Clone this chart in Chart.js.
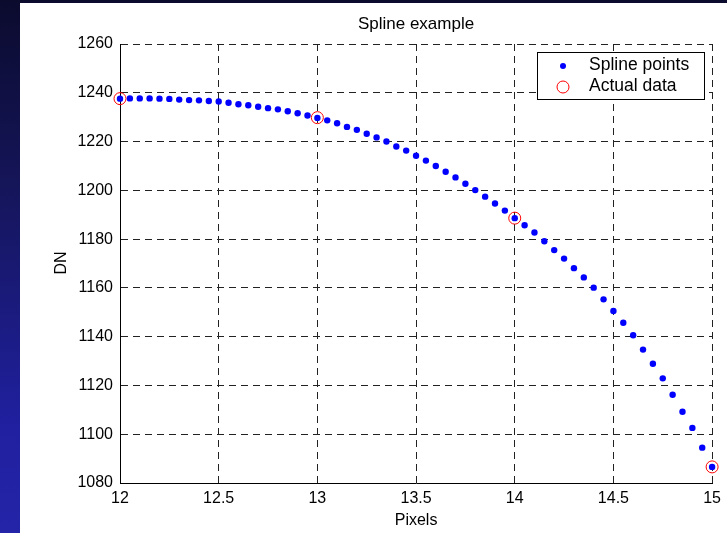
<!DOCTYPE html>
<html>
<head>
<meta charset="utf-8">
<script src="https://cdn.jsdelivr.net/npm/chart.js@4/dist/chart.umd.min.js"></script>
<style>
  html, body { margin:0; padding:0; width:727px; height:533px; overflow:hidden;
    background: linear-gradient(to bottom, #0b0b2e 0%, #15155a 35%, #2020a0 80%, #2424a8 100%); }
  #wrap { position:absolute; left:20px; top:3px; width:707px; height:530px; background:#ffffff; }
  canvas { display:block; }
</style>
</head>
<body>
<div id="wrap"><canvas id="c" width="707" height="530"></canvas></div>
<script>
const chartTitle = "Spline example";
const xAxisTitle = "Pixels";
const yAxisTitle = "DN";
const seriesNames = ["Spline points", "Actual data"];

const xTicks = [12, 12.5, 13, 13.5, 14, 14.5, 15];
const yTicks = [1080, 1100, 1120, 1140, 1160, 1180, 1200, 1220, 1240, 1260];

const splineX = [12.00,12.05,12.10,12.15,12.20,12.25,12.30,12.35,12.40,12.45,
  12.50,12.55,12.60,12.65,12.70,12.75,12.80,12.85,12.90,12.95,
  13.00,13.05,13.10,13.15,13.20,13.25,13.30,13.35,13.40,13.45,
  13.50,13.55,13.60,13.65,13.70,13.75,13.80,13.85,13.90,13.95,
  14.00,14.05,14.10,14.15,14.20,14.25,14.30,14.35,14.40,14.45,
  14.50,14.55,14.60,14.65,14.70,14.75,14.80,14.85,14.90,14.95,15.00];
const splineY = [1237.6,1237.7,1237.7,1237.7,1237.6,1237.5,1237.2,1237.0,1236.9,1236.6,
  1236.4,1235.9,1235.3,1234.9,1234.3,1233.7,1233.2,1232.4,1231.6,1230.7,
  1229.7,1228.7,1227.5,1226.0,1224.8,1223.2,1221.7,1220.0,1218.0,1216.3,
  1214.2,1212.2,1210.0,1207.6,1205.3,1202.7,1200.1,1197.4,1194.6,1191.7,
  1188.6,1185.7,1182.7,1179.1,1175.5,1172.0,1168.1,1164.3,1160.1,1155.3,
  1150.5,1145.7,1140.6,1134.7,1128.9,1122.9,1116.2,1109.2,1102.6,1094.5,1086.6];

const dataX = [12, 13, 14, 15];
const dataY = [1237.6, 1229.8, 1188.6, 1086.6];

const FONT = "'Liberation Sans', Arial, sans-serif";

const splinePts = splineX.map((x, i) => ({x: x, y: splineY[i]}));
const dataPts = dataX.map((x, i) => ({x: x, y: dataY[i]}));

const decor = {
  id: 'decor',
  afterDraw(chart) {
    const ctx = chart.ctx;
    const ca = chart.chartArea;
    ctx.save();
    ctx.fillStyle = '#000';
    ctx.textAlign = 'center';
    ctx.textBaseline = 'middle';
    const cx = (ca.left + ca.right) / 2;
    ctx.font = '17px ' + FONT;
    ctx.fillText(chartTitle, cx, 21);
    ctx.font = '16px ' + FONT;
    ctx.fillText(xAxisTitle, cx, 518);
    ctx.save();
    ctx.translate(42, 260);
    ctx.rotate(-Math.PI / 2);
    ctx.fillText(yAxisTitle, 0, 0);
    ctx.restore();

    // legend
    const lx = 517, ly = 49, lw = 167, lh = 47;
    ctx.fillStyle = '#fff';
    ctx.fillRect(lx, ly, lw, lh);
    ctx.strokeStyle = '#000';
    ctx.lineWidth = 1;
    ctx.strokeRect(lx + 0.5, ly + 0.5, lw, lh);
    ctx.fillStyle = '#0000ff';
    ctx.beginPath(); ctx.arc(543, 63, 3, 0, Math.PI * 2); ctx.fill();
    ctx.strokeStyle = '#ff0000';
    ctx.beginPath(); ctx.arc(543, 84, 6, 0, Math.PI * 2); ctx.stroke();
    ctx.fillStyle = '#000';
    ctx.textAlign = 'left';
    ctx.font = '17.5px ' + FONT;
    ctx.fillText(seriesNames[0], 569, 62);
    ctx.fillText(seriesNames[1], 569, 83);
    ctx.restore();
  }
};

new Chart(document.getElementById('c'), {
  type: 'scatter',
  data: {
    datasets: [
      { label: seriesNames[0], data: splinePts, showLine: false, clip: false,
        pointStyle: 'circle', pointRadius: 3.2, pointHoverRadius: 3.2,
        backgroundColor: '#0000ff', borderColor: '#0000ff', borderWidth: 0 },
      { label: seriesNames[1], data: dataPts, showLine: false, clip: false,
        pointStyle: 'circle', pointRadius: 6, pointHoverRadius: 6,
        backgroundColor: 'rgba(0,0,0,0)', borderColor: '#ff0000', borderWidth: 1 }
    ]
  },
  options: {
    responsive: false,
    animation: false,
    events: [],
    layout: { padding: { top: 41, right: 13, left: 0, bottom: 0 } },
    plugins: { legend: { display: false }, title: { display: false }, tooltip: { enabled: false } },
    scales: {
      x: {
        type: 'linear', min: 12, max: 15,
        afterBuildTicks: s => { s.ticks = xTicks.map(v => ({value: v})); },
        afterFit: s => { s.height = 50; },
        grid: { color: '#222', lineWidth: 1, drawTicks: false },
        border: { display: true, color: '#000', width: 1, dash: [7, 5] },
        ticks: { color: '#000', font: { family: FONT, size: 16 }, padding: 6, maxRotation: 0,
                 callback: v => String(v) }
      },
      y: {
        type: 'linear', min: 1080, max: 1260,
        afterBuildTicks: s => { s.ticks = yTicks.map(v => ({value: v})); },
        afterFit: s => { s.width = 100; },
        grid: { color: '#222', lineWidth: 1, drawTicks: false },
        border: { display: true, color: '#000', width: 1, dash: [7, 5] },
        ticks: { color: '#000', font: { family: FONT, size: 16 }, padding: 7,
                 callback: v => String(v) }
      }
    }
  },
  plugins: [decor]
});
</script>
</body>
</html>
